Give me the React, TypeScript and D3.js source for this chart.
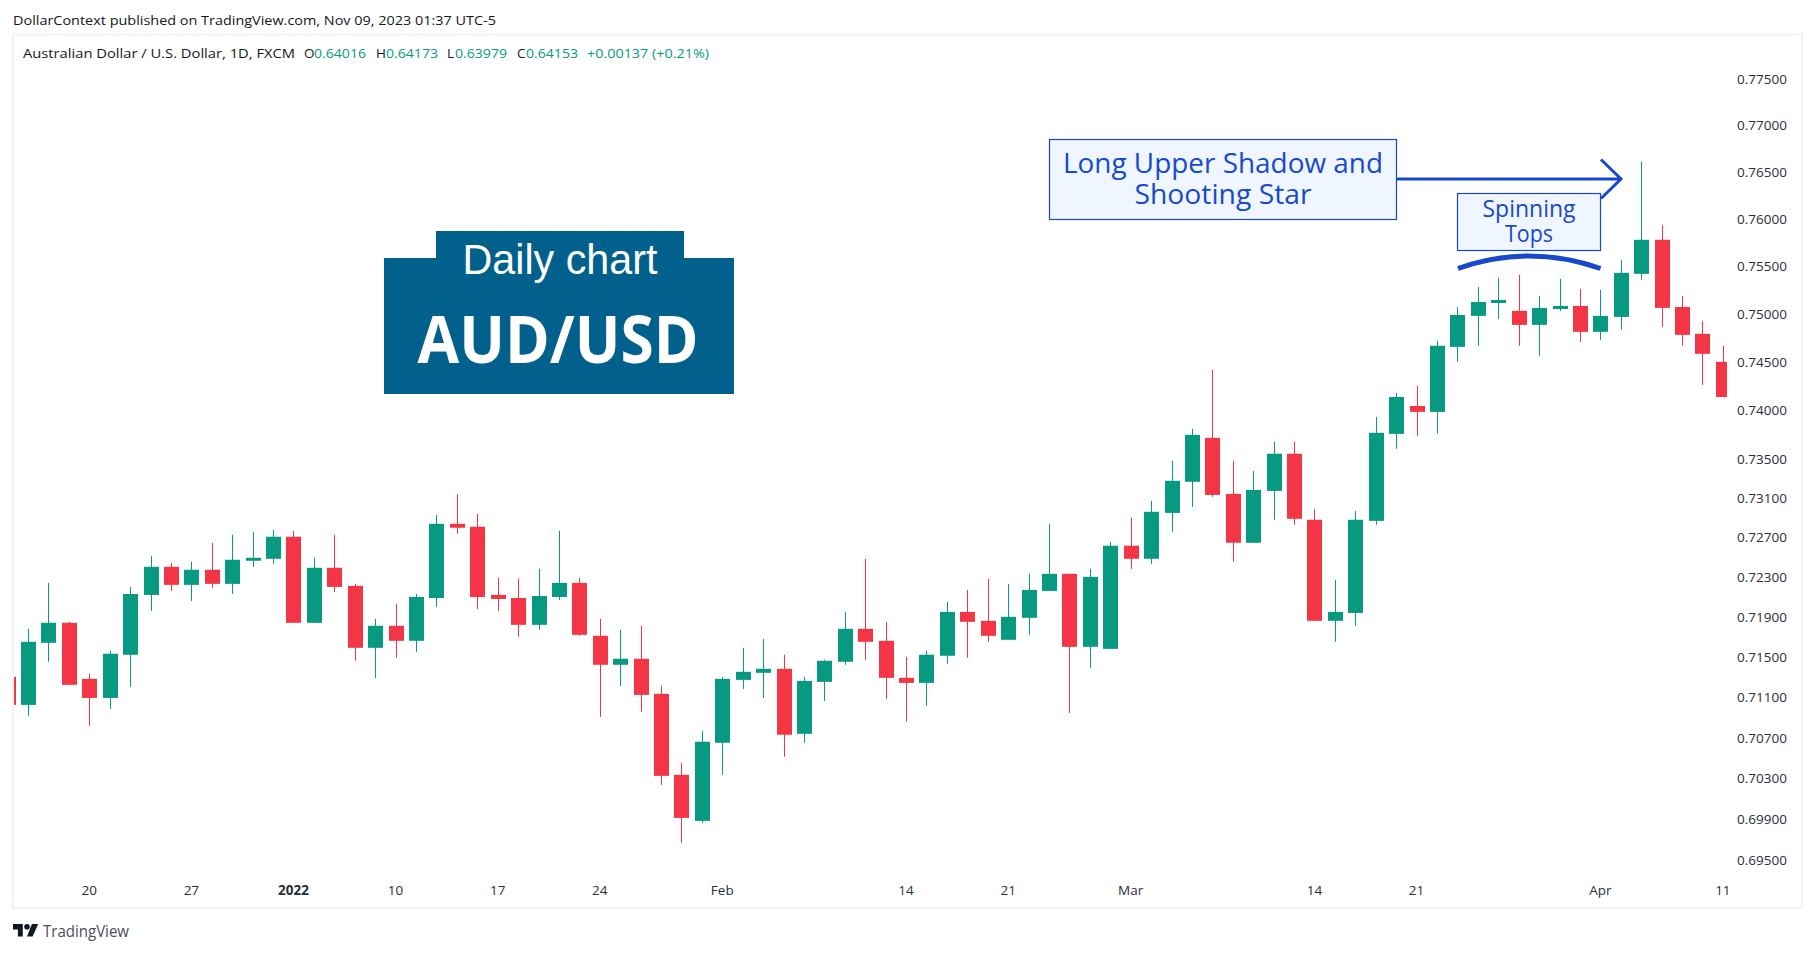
import { useEffect, useRef } from 'react';
import * as d3 from 'd3';

const WIDTH = 1815;
const HEIGHT = 953;

// daily AUD/USD candles, first one is cut by the left edge of the pane
const opens = [
  0.71297, 0.71019, 0.71636, 0.71836, 0.71277, 0.71088, 0.71517, 0.72116, 0.72399, 0.72217,
  0.72369, 0.72227, 0.7246, 0.7248, 0.72703, 0.71836, 0.72389, 0.72207, 0.71586, 0.71806,
  0.71656, 0.72085, 0.72834, 0.72804, 0.72116, 0.72085, 0.71816, 0.72095, 0.72237, 0.71706,
  0.71417, 0.71477, 0.71128, 0.7033, 0.6988, 0.70645, 0.71267, 0.71337, 0.71377, 0.70733,
  0.71247, 0.71447, 0.71776, 0.71656, 0.71287, 0.71237, 0.71507, 0.71945, 0.71856, 0.71666,
  0.71886, 0.72156, 0.72328, 0.71596, 0.71576, 0.72612, 0.7248, 0.72945, 0.73262, 0.73712,
  0.73138, 0.72642, 0.73169, 0.73549, 0.72875, 0.71856, 0.71935, 0.72864, 0.73753, 0.7404,
  0.73979, 0.74653, 0.74976, 0.75111, 0.75028, 0.74882, 0.75048, 0.7508, 0.74809, 0.74965,
  0.75416, 0.75775, 0.75069, 0.74788, 0.74497,
];
const closes = [
  0.71019, 0.71646, 0.71836, 0.71218, 0.71088, 0.71527, 0.72125, 0.72399, 0.72217, 0.72369,
  0.72227, 0.7247, 0.7249, 0.72703, 0.71836, 0.72389, 0.72196, 0.71586, 0.71806, 0.71656,
  0.72095, 0.72834, 0.72794, 0.72095, 0.72075, 0.71816, 0.72105, 0.72237, 0.71716, 0.71417,
  0.71477, 0.71118, 0.7032, 0.69909, 0.70655, 0.71277, 0.71347, 0.71377, 0.70724, 0.71257,
  0.71457, 0.71776, 0.71646, 0.71287, 0.71237, 0.71517, 0.71945, 0.71846, 0.71706, 0.71896,
  0.72166, 0.72328, 0.71596, 0.72298, 0.72612, 0.7248, 0.72956, 0.73272, 0.73743, 0.73128,
  0.72642, 0.73179, 0.73549, 0.72885, 0.71856, 0.71945, 0.72875, 0.73764, 0.74133, 0.73979,
  0.74664, 0.74986, 0.75121, 0.75142, 0.74882, 0.75059, 0.7508, 0.74809, 0.74976, 0.75427,
  0.75775, 0.75059, 0.74778, 0.7458, 0.74133,
];
const highs = [
  0.71297, 0.71776, 0.72237, 0.71846, 0.71327, 0.71557, 0.72196, 0.7251, 0.72439, 0.7245,
  0.72642, 0.72723, 0.72753, 0.72773, 0.72763, 0.7249, 0.72723, 0.72227, 0.71876, 0.72025,
  0.72125, 0.72925, 0.73138, 0.72935, 0.72288, 0.72278, 0.72379, 0.72763, 0.72288, 0.71876,
  0.71766, 0.71806, 0.71208, 0.70448, 0.70763, 0.71297, 0.71586, 0.71676, 0.71517, 0.71297,
  0.71467, 0.71945, 0.7248, 0.71846, 0.71497, 0.71557, 0.72045, 0.72166, 0.72278, 0.72227,
  0.72328, 0.72834, 0.72328, 0.72379, 0.72652, 0.72895, 0.73067, 0.73477, 0.73805, 0.74414,
  0.73477, 0.73374, 0.73672, 0.73672, 0.72986, 0.72267, 0.72966, 0.73928, 0.74175, 0.74248,
  0.74716, 0.75069, 0.75279, 0.75374, 0.75406, 0.75184, 0.75364, 0.75258, 0.75247, 0.75564,
  0.76608, 0.75933, 0.75184, 0.74924, 0.74664,
];
const lows = [
  0.71019, 0.70911, 0.71447, 0.71218, 0.70812, 0.70979, 0.71198, 0.71955, 0.72156, 0.72055,
  0.72186, 0.72125, 0.72399, 0.72429, 0.71836, 0.71836, 0.72146, 0.71457, 0.71287, 0.71487,
  0.71547, 0.71995, 0.72733, 0.71975, 0.71955, 0.71696, 0.71766, 0.72065, 0.71706, 0.70901,
  0.71208, 0.7095, 0.70232, 0.69667, 0.69861, 0.7033, 0.71177, 0.71088, 0.70507, 0.70645,
  0.71058, 0.71417, 0.71467, 0.71078, 0.70852, 0.71009, 0.71427, 0.71487, 0.71646, 0.71666,
  0.71716, 0.72156, 0.7094, 0.71387, 0.71576, 0.72379, 0.72429, 0.72753, 0.73006, 0.73108,
  0.7245, 0.72642, 0.72875, 0.72824, 0.71856, 0.71646, 0.71806, 0.72824, 0.736, 0.73733,
  0.73753, 0.74497, 0.74664, 0.74944, 0.74664, 0.7456, 0.75028, 0.74705, 0.74726, 0.7483,
  0.75353, 0.74861, 0.74664, 0.74258, 0.74133,
];

const priceTicks = [
  0.775, 0.77, 0.765, 0.76, 0.755, 0.75, 0.745, 0.74, 0.735, 0.731, 0.727, 0.723, 0.719, 0.715,
  0.711, 0.707, 0.703, 0.699, 0.695,
];
const dateTickBars = [4, 9, 14, 19, 24, 29, 35, 44, 49, 55, 64, 69, 78, 84];
const dateTickLabels = ['20', '27', '2022', '10', '17', '24', 'Feb', '14', '21', 'Mar', '14', '21', 'Apr', '11'];

const legendValues = [
  { key: 'O', value: '0.64016', keyX: 304, valueX: 314 },
  { key: 'H', value: '0.64173', keyX: 376, valueX: 386 },
  { key: 'L', value: '0.63979', keyX: 447, valueX: 455 },
  { key: 'C', value: '0.64153', keyX: 517, valueX: 526 },
];

const UP = '#089981';
const DOWN = '#F23645';
const BLUE = '#1848CC';
const FRAME = '#F0F3FA';
const TEXT = '#131722';
const FONT = '"Open Sans", "Noto Sans", sans-serif';

export default function App() {
  const svgRef = useRef<SVGSVGElement>(null);

  useEffect(() => {
    const svg = d3.select<SVGSVGElement, unknown>(svgRef.current!);
    svg.selectAll('*').remove();

    const x = d3.scaleLinear().domain([0, 84]).range([8.08, 1723.36]);
    const y = d3.scaleLog().domain([0.775, 0.695]).range([78.3, 860]);

    svg.append('rect').attr('width', WIDTH).attr('height', HEIGHT).attr('fill', '#fff');

    // header line
    svg
      .append('text')
      .attr('x', 13)
      .attr('y', 25)
      .attr('font-size', 13.5)
      .attr('fill', TEXT)
      .attr('textLength', 483)
      .attr('lengthAdjust', 'spacingAndGlyphs')
      .text('DollarContext published on TradingView.com, Nov 09, 2023 01:37 UTC-5');

    // pane frame
    svg
      .append('rect')
      .attr('x', 13)
      .attr('y', 34.5)
      .attr('width', 1789)
      .attr('height', 873.5)
      .attr('fill', 'none')
      .attr('stroke', FRAME)
      .attr('stroke-width', 2);

    svg
      .append('defs')
      .append('clipPath')
      .attr('id', 'pane')
      .append('rect')
      .attr('x', 14)
      .attr('y', 35)
      .attr('width', 1713)
      .attr('height', 872);

    // candles
    const bars = d3.range(opens.length);
    const candles = svg
      .append('g')
      .attr('clip-path', 'url(#pane)')
      .selectAll('g')
      .data(bars)
      .enter()
      .append('g')
      .attr('fill', (i) => (closes[i] >= opens[i] ? UP : DOWN));

    candles
      .append('rect')
      .attr('x', (i) => Math.floor(x(i)))
      .attr('width', 1)
      .attr('y', (i) => y(highs[i]))
      .attr('height', (i) => y(lows[i]) - y(highs[i]));

    candles
      .append('rect')
      .attr('x', (i) => Math.floor(x(i)) - 7)
      .attr('width', 15)
      .attr('y', (i) => y(Math.max(opens[i], closes[i])))
      .attr('height', (i) => Math.abs(y(opens[i]) - y(closes[i])));

    // price axis
    const yAxis = svg
      .append('g')
      .attr('transform', 'translate(1737,0.5)')
      .call(
        d3
          .axisRight(y)
          .tickValues(priceTicks)
          .tickSize(0)
          .tickPadding(0)
          .tickFormat((d) => d3.format('.5f')(d as number)),
      );
    yAxis.select('.domain').remove();
    yAxis.selectAll('text').attr('font-family', FONT).attr('font-size', 13.5).attr('fill', '#2a2e39');

    // time axis
    const xAxis = svg
      .append('g')
      .attr('transform', 'translate(-1,885)')
      .call(
        d3
          .axisBottom(x)
          .tickValues(dateTickBars)
          .tickSize(0)
          .tickPadding(0)
          .tickFormat((_, i) => dateTickLabels[i]),
      );
    xAxis.select('.domain').remove();
    xAxis
      .selectAll('text')
      .attr('font-family', FONT)
      .attr('font-size', 13.5)
      .attr('fill', '#2a2e39')
      .attr('font-weight', (_, i) => (dateTickLabels[i] === '2022' ? 700 : 400));

    // legend line
    const legend = svg.append('g').attr('font-size', 13.5);
    legend
      .append('text')
      .attr('x', 23)
      .attr('y', 58)
      .attr('fill', TEXT)
      .attr('textLength', 272)
      .attr('lengthAdjust', 'spacingAndGlyphs')
      .text('Australian Dollar / U.S. Dollar, 1D, FXCM');
    legendValues.forEach((d) => {
      legend.append('text').attr('x', d.keyX).attr('y', 58).attr('fill', TEXT).text(d.key);
      legend
        .append('text')
        .attr('x', d.valueX)
        .attr('y', 58)
        .attr('fill', UP)
        .attr('textLength', 52)
        .attr('lengthAdjust', 'spacingAndGlyphs')
        .text(d.value);
    });
    legend
      .append('text')
      .attr('x', 587)
      .attr('y', 58)
      .attr('fill', UP)
      .attr('textLength', 122)
      .attr('lengthAdjust', 'spacingAndGlyphs')
      .text('+0.00137 (+0.21%)');

    // banner
    const banner = d3.path();
    banner.moveTo(384, 258);
    banner.lineTo(436, 258);
    banner.lineTo(436, 231);
    banner.lineTo(684, 231);
    banner.lineTo(684, 258);
    banner.lineTo(734, 258);
    banner.lineTo(734, 394);
    banner.lineTo(384, 394);
    banner.closePath();
    svg.append('path').attr('d', banner.toString()).attr('fill', '#02618C');
    svg
      .append('text')
      .attr('x', 560)
      .attr('y', 274)
      .attr('text-anchor', 'middle')
      .attr('font-family', '"Liberation Sans", sans-serif')
      .attr('font-size', 42)
      .attr('fill', '#fff')
      .attr('textLength', 195)
      .attr('lengthAdjust', 'spacingAndGlyphs')
      .text('Daily chart');
    svg
      .append('text')
      .attr('x', 558)
      .attr('y', 363)
      .attr('text-anchor', 'middle')
      .attr('font-size', 67)
      .attr('font-weight', 700)
      .attr('fill', '#fff')
      .attr('textLength', 281)
      .attr('lengthAdjust', 'spacingAndGlyphs')
      .text('AUD/USD');

    // long upper shadow arrow
    const arrow = d3.path();
    arrow.moveTo(1397, 179);
    arrow.lineTo(1621, 179);
    arrow.moveTo(1601, 159.5);
    arrow.lineTo(1621, 179);
    arrow.lineTo(1601, 198.5);
    svg.append('path').attr('d', arrow.toString()).attr('fill', 'none').attr('stroke', BLUE).attr('stroke-width', 3);

    const labelBox = (bx: number, by: number, bw: number, bh: number) =>
      svg
        .append('rect')
        .attr('x', bx)
        .attr('y', by)
        .attr('width', bw)
        .attr('height', bh)
        .attr('fill', '#EFF6FF')
        .attr('stroke', BLUE)
        .attr('stroke-width', 1.2);

    const labelText = (tx: number, ty: number, size: number, len: number, s: string) =>
      svg
        .append('text')
        .attr('x', tx)
        .attr('y', ty)
        .attr('text-anchor', 'middle')
        .attr('font-size', size)
        .attr('fill', BLUE)
        .attr('textLength', len)
        .attr('lengthAdjust', 'spacingAndGlyphs')
        .text(s);

    labelBox(1049.5, 139.5, 347, 80);
    labelText(1223, 173, 28, 320, 'Long Upper Shadow and');
    labelText(1223, 203.5, 28, 177, 'Shooting Star');

    labelBox(1457.5, 193.5, 143, 57);
    labelText(1529, 216.5, 24, 93, 'Spinning');
    labelText(1529, 241.5, 24, 48, 'Tops');

    // arc over the spinning tops
    const arc = d3.path();
    arc.moveTo(1458, 268.5);
    arc.quadraticCurveTo(1529, 243.5, 1600.5, 268.5);
    svg.append('path').attr('d', arc.toString()).attr('fill', 'none').attr('stroke', BLUE).attr('stroke-width', 5);

    // TradingView mark
    const logo = svg.append('g').attr('transform', 'translate(13,924) scale(0.7)').attr('fill', TEXT);
    logo.append('path').attr('d', 'M14 18H7V8H0V0h14z');
    logo.append('circle').attr('cx', 20).attr('cy', 4).attr('r', 4);
    logo.append('path').attr('d', 'M28 18h-8l7-18h9z');
    svg
      .append('text')
      .attr('x', 43)
      .attr('y', 937)
      .attr('font-size', 16)
      .attr('fill', '#4a4e5a')
      .attr('textLength', 86)
      .attr('lengthAdjust', 'spacingAndGlyphs')
      .text('TradingView');
  }, []);

  return (
    <svg
      ref={svgRef}
      width={WIDTH}
      height={HEIGHT}
      fontFamily={FONT}
      style={{ position: 'absolute', left: 0, top: 0, display: 'block' }}
    ></svg>
  );
}
